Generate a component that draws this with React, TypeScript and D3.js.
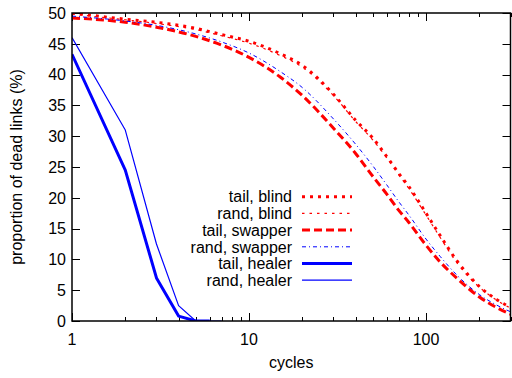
import React from 'react';
import * as d3 from 'd3';

// sampled cycles for the slow-decaying (blind / swapper) runs
const cycles = [1, 2, 3, 5, 7, 10, 15, 20, 30, 40, 50, 60, 70, 80, 100, 120, 150, 200, 250, 300];
const tailBlind = [50, 49.0, 48.5, 47.5, 46.5, 45.4, 43.4, 41.5, 36.8, 32.6, 29.7, 26.7, 24.0, 21.8, 17.5, 13.9, 9.7, 5.6, 3.5, 2.2];
const randBlind = [49.8, 48.9, 48.3, 47.3, 46.3, 45.1, 43.1, 41.2, 36.6, 32.4, 29.4, 26.5, 23.8, 21.5, 17.2, 13.6, 9.4, 5.5, 3.4, 2.1];
const tailSwapper = [49.2, 48.5, 47.7, 46.2, 44.8, 42.8, 39.6, 36.6, 31.3, 27.2, 23.5, 20.6, 18.0, 16.0, 12.3, 9.6, 6.9, 3.9, 2.2, 1.1];
const randSwapper = [49.5, 48.7, 48.0, 46.6, 45.3, 43.5, 40.5, 37.9, 32.8, 28.7, 25.2, 22.1, 19.4, 17.2, 13.3, 10.5, 7.4, 4.3, 2.6, 1.5];

// healer runs converge within a handful of cycles
const tailHealerCycles = [1, 2, 3, 4, 5, 6];
const tailHealer = [43.3, 24.5, 7.0, 0.8, 0, 0];
const randHealerCycles = [1, 2, 3, 4, 5, 6, 7];
const randHealer = [46.0, 31.0, 12.5, 2.5, 0, 0, 0];

const seriesNames = ['tail, blind', 'rand, blind', 'tail, swapper', 'rand, swapper', 'tail, healer', 'rand, healer'];

const yTicks = [0, 5, 10, 15, 20, 25, 30, 35, 40, 45, 50];
const xLabelTicks = [1, 10, 100];

const RED = '#ff0000';
const BLUE = '#0000ff';

const styles = [
  { color: RED, width: 3, dash: '3,5' },
  { color: RED, width: 1.2, dash: '2.5,5' },
  { color: RED, width: 3, dash: '8,4' },
  { color: BLUE, width: 1, dash: '4,3,1,3' },
  { color: BLUE, width: 3, dash: null },
  { color: BLUE, width: 1.2, dash: null },
];

function App() {
  const svgRef = React.useRef(null);
  const width = 512;
  const height = 378;
  const margin = { top: 13, right: 1.5, bottom: 57, left: 72 };

  React.useEffect(() => {
    const svg = d3.select(svgRef.current);
    svg.selectAll('*').remove();

    const font = '"Liberation Sans", Arial, Helvetica, sans-serif';

    const x = d3
      .scaleLog()
      .domain([1, 300])
      .range([margin.left, width - margin.right]);

    const y = d3
      .scaleLinear()
      .domain([0, 50])
      .range([height - margin.bottom, margin.top]);

    const x0 = margin.left;
    const x1 = width - margin.right;
    const y0 = height - margin.bottom;
    const y1 = margin.top;

    svg
      .append('defs')
      .append('clipPath')
      .attr('id', 'plot-clip')
      .append('rect')
      .attr('x', x0)
      .attr('y', y1)
      .attr('width', x1 - x0)
      .attr('height', y0 - y1);

    const axes = svg.append('g').attr('stroke', '#000').attr('stroke-width', 1);

    // x ticks, bottom and top
    const allX = d3.range(1, 301).filter((v) => {
      const p = Math.pow(10, Math.floor(Math.log10(v) + 1e-9));
      return v % p === 0;
    });
    allX.forEach((v) => {
      const major = xLabelTicks.includes(v);
      const len = major ? 8 : 4;
      const px = Math.round(x(v)) + 0.5;
      axes.append('line').attr('x1', px).attr('x2', px).attr('y1', y0).attr('y2', y0 - len);
      axes.append('line').attr('x1', px).attr('x2', px).attr('y1', y1).attr('y2', y1 + len);
    });

    // y ticks, left and right
    yTicks.forEach((v) => {
      const py = Math.round(y(v)) + 0.5;
      axes.append('line').attr('x1', x0).attr('x2', x0 + 8).attr('y1', py).attr('y2', py);
      axes.append('line').attr('x1', x1).attr('x2', x1 - 8).attr('y1', py).attr('y2', py);
    });

    // tick labels
    svg
      .append('g')
      .selectAll('text')
      .data(yTicks)
      .enter()
      .append('text')
      .attr('x', x0 - 6)
      .attr('y', (d) => y(d))
      .attr('dy', '0.36em')
      .attr('text-anchor', 'end')
      .attr('font-family', font)
      .attr('font-size', 16)
      .text((d) => d);

    svg
      .append('g')
      .selectAll('text')
      .data(xLabelTicks)
      .enter()
      .append('text')
      .attr('x', (d) => x(d))
      .attr('y', 345)
      .attr('text-anchor', 'middle')
      .attr('font-family', font)
      .attr('font-size', 16)
      .text((d) => d);

    // axis titles
    svg
      .append('text')
      .attr('x', (x0 + x1) / 2)
      .attr('y', 368)
      .attr('text-anchor', 'middle')
      .attr('font-family', font)
      .attr('font-size', 16)
      .text('cycles');

    svg
      .append('text')
      .attr('transform', `translate(22, ${(y0 + y1) / 2}) rotate(-90)`)
      .attr('text-anchor', 'middle')
      .attr('font-family', font)
      .attr('font-size', 16)
      .text('proportion of dead links (%)');

    // data lines
    const smooth = d3
      .line()
      .x((d) => x(d[0]))
      .y((d) => y(d[1]))
      .curve(d3.curveMonotoneX);

    const straight = d3
      .line()
      .x((d) => x(d[0]))
      .y((d) => y(d[1]));

    const lines = [
      { pts: d3.zip(cycles, tailBlind), gen: smooth },
      { pts: d3.zip(cycles, randBlind), gen: smooth },
      { pts: d3.zip(cycles, tailSwapper), gen: smooth },
      { pts: d3.zip(cycles, randSwapper), gen: smooth },
      { pts: d3.zip(tailHealerCycles, tailHealer), gen: straight },
      { pts: d3.zip(randHealerCycles, randHealer), gen: straight },
    ];

    const plot = svg.append('g').attr('clip-path', 'url(#plot-clip)');
    lines.forEach((l, i) => {
      const s = styles[i];
      plot
        .append('path')
        .attr('d', l.gen(l.pts))
        .attr('fill', 'none')
        .attr('stroke', s.color)
        .attr('stroke-width', s.width)
        .attr('stroke-dasharray', s.dash)
        .attr('stroke-linejoin', 'round');
    });

    // frame
    svg
      .append('rect')
      .attr('x', x0)
      .attr('y', y1)
      .attr('width', x1 - x0)
      .attr('height', y0 - y1)
      .attr('fill', 'none')
      .attr('stroke', '#000')
      .attr('stroke-width', 1.5);

    // legend
    const legend = svg.append('g');
    seriesNames.forEach((name, i) => {
      const ly = 196.7 + i * 16.7;
      const s = styles[i];
      legend
        .append('text')
        .attr('x', 292)
        .attr('y', ly)
        .attr('dy', '0.36em')
        .attr('text-anchor', 'end')
        .attr('font-family', font)
        .attr('font-size', 16)
        .text(name);
      legend
        .append('line')
        .attr('x1', 302)
        .attr('x2', 352)
        .attr('y1', ly)
        .attr('y2', ly)
        .attr('stroke', s.color)
        .attr('stroke-width', s.width)
        .attr('stroke-dasharray', s.dash);
    });
  }, []);

  return (
    <svg
      ref={svgRef}
      width={width}
      height={height}
      style={{ position: 'absolute', left: 0, top: 0, background: '#fff' }}
    ></svg>
  );
}

export default App;
